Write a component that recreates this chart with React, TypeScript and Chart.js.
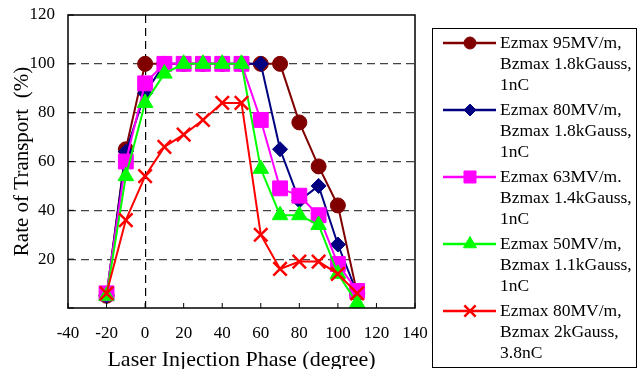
import React, { useEffect, useRef } from "react";
import { Chart, registerables } from "chart.js";
import { drawPoint } from "chart.js/helpers";

Chart.register(...registerables);

const phases = [-20, -10, 0, 10, 20, 30, 40, 50, 60, 70, 80, 90, 100, 110];
const ez95 = [5, 65, 100, 100, 100, 100, 100, 100, 100, 100, 76, 58, 42, 6];
const ez80 = [5, 64, 88, 100, 100, 100, 100, 100, 100, 65, 44, 50, 26, 6];
const ez63 = [6, 60, 92, 100, 100, 100, 100, 100, 77, 49, 46, 38, 18, 7];
const ez50 = [5, 54, 84, 96, 100, 100, 100, 100, 57, 38, 38, 34, 14, 2];
const ez80hi = [6, 36, 54, 66, 71, 77, 84, 84, 30, 16, 19, 19, 14, 6];

const seriesLabels = [
  ["Ezmax 95MV/m,", "Bzmax 1.8kGauss,", "1nC"],
  ["Ezmax 80MV/m,", "Bzmax 1.8kGauss,", "1nC"],
  ["Ezmax 63MV/m.", "Bzmax 1.4kGauss,", "1nC"],
  ["Ezmax 50MV/m,", "Bzmax 1.1kGauss,", "1nC"],
  ["Ezmax 80MV/m,", "Bzmax 2kGauss,", "3.8nC"],
];
const seriesValues = [ez95, ez80, ez63, ez50, ez80hi];
const colors = ["#800000", "#000080", "#FF00FF", "#00FF00", "#FF0000"];
const styles = ["circle", "rectRot", "rect", "triangle", "crossRot"];
const radii = [7.5, 7.5, 10.5, 9, 9.5];
const legendRadii = [6, 6, 8.5, 7.5, 8];

const xTicks = [-40, -20, 0, 20, 40, 60, 80, 100, 120, 140];
const yTicks = [0, 20, 40, 60, 80, 100, 120];

const FONT = "'Liberation Serif', 'Times New Roman', serif";

const framePlugin = {
  id: "frame",
  afterDraw(chart: any) {
    const { ctx, chartArea } = chart;
    const { left, right, top, bottom } = chartArea;
    ctx.save();
    ctx.strokeStyle = "#000";
    ctx.lineWidth = 1.5;
    ctx.setLineDash([]);
    ctx.strokeRect(left, top, right - left, bottom - top);
    const xs = chart.scales.x;
    const ys = chart.scales.y;
    ctx.lineWidth = 1;
    xTicks.forEach((v) => {
      const px = xs.getPixelForValue(v);
      ctx.beginPath();
      ctx.moveTo(px, bottom);
      ctx.lineTo(px, bottom - 5);
      ctx.stroke();
    });
    yTicks.forEach((v) => {
      const py = ys.getPixelForValue(v);
      ctx.beginPath();
      ctx.moveTo(left, py);
      ctx.lineTo(left + 6, py);
      ctx.stroke();
    });
    ctx.restore();
  },
};

const legendPlugin = {
  id: "customLegend",
  afterDraw(chart: any) {
    const { ctx } = chart;
    ctx.save();
    ctx.setLineDash([]);
    ctx.strokeStyle = "#000";
    ctx.lineWidth = 1;
    ctx.strokeRect(432.5, 28.5, 204, 339);
    ctx.font = `17.5px ${FONT}`;
    ctx.textBaseline = "middle";
    ctx.textAlign = "left";
    seriesLabels.forEach((lines, i) => {
      const y0 = 43 + i * 67;
      ctx.strokeStyle = colors[i];
      ctx.fillStyle = colors[i];
      ctx.lineWidth = 2.5;
      ctx.beginPath();
      ctx.moveTo(443, y0);
      ctx.lineTo(496, y0);
      ctx.stroke();
      ctx.lineWidth = styles[i] === "crossRot" ? 2.5 : 1;
      drawPoint(
        ctx,
        {
          pointStyle: styles[i],
          radius: legendRadii[i],
          rotation: 0,
          borderWidth: styles[i] === "crossRot" ? 2.5 : 1,
        } as any,
        470,
        y0
      );
      ctx.fillStyle = "#000";
      lines.forEach((t, j) => {
        ctx.fillText(t, 500, y0 + j * 21);
      });
    });
    ctx.restore();
  },
};

export default function App() {
  const ref = useRef<HTMLCanvasElement>(null);
  useEffect(() => {
    document.body.style.margin = "0";
    const canvas = ref.current!;
    const datasets = seriesValues.map((vals, i) => ({
      label: seriesLabels[i].join(" "),
      data: phases.map((p, k) => ({ x: p, y: vals[k] })),
      borderColor: colors[i],
      backgroundColor: colors[i],
      pointBackgroundColor: colors[i],
      pointBorderColor: colors[i],
      pointStyle: styles[i],
      pointRadius: radii[i],
      pointBorderWidth: styles[i] === "crossRot" ? 2.5 : 1,
      borderWidth: 2,
      showLine: true,
      fill: false,
      tension: 0,
      clip: false,
      order: 5 - i,
    }));

    const chart = new Chart(canvas, {
      type: "scatter",
      data: { datasets: datasets as any },
      options: {
        responsive: false,
        devicePixelRatio: 1,
        animation: false,
        layout: { autoPadding: false, padding: { left: 0, top: 15, right: 225, bottom: 0 } },
        plugins: {
          legend: { display: false },
          tooltip: { enabled: false },
        },
        scales: {
          x: {
            type: "linear",
            min: xTicks[0],
            max: xTicks[xTicks.length - 1],
            afterBuildTicks: (s: any) => {
              s.ticks = xTicks.map((v) => ({ value: v }));
            },
            afterFit: (s: any) => {
              s.height = 61;
              s.paddingLeft = 0;
              s.paddingRight = 0;
            },
            ticks: {
              color: "#000",
              font: { family: FONT, size: 17 },
              padding: 15,
              maxRotation: 0,
            },
            grid: {
              drawTicks: false,
              color: (c: any) => (c.tick && c.tick.value === 0 ? "#000" : "rgba(0,0,0,0)"),
              lineWidth: 1.2,
            },
            border: { display: false, dash: [8, 5] },
            title: {
              display: true,
              text: "Laser Injection Phase (degree)",
              color: "#000",
              font: { family: FONT, size: 22, lineHeight: 0.8 },
              padding: { top: 0, bottom: 0 },
            },
          },
          y: {
            type: "linear",
            min: yTicks[0],
            max: yTicks[yTicks.length - 1],
            afterBuildTicks: (s: any) => {
              s.ticks = yTicks.map((v) => ({ value: v }));
            },
            afterFit: (s: any) => {
              s.width = 68;
              s.paddingTop = 0;
              s.paddingBottom = 0;
            },
            ticks: {
              color: "#000",
              font: { family: FONT, size: 17 },
              padding: 13,
              callback: (v: any) => (v === 0 ? "" : String(v)),
            },
            grid: {
              drawTicks: false,
              color: (c: any) =>
                c.tick && (c.tick.value === 0 || c.tick.value === 120) ? "rgba(0,0,0,0)" : "#444",
              lineWidth: 1.2,
            },
            border: { display: false, dash: [8, 5] },
            title: {
              display: true,
              text: "Rate of Transport  (%)",
              color: "#000",
              font: { family: FONT, size: 21, lineHeight: 1.0 },
              padding: { top: 12, bottom: 0 },
            },
          },
        },
      },
      plugins: [framePlugin, legendPlugin],
    });
    return () => chart.destroy();
  }, []);

  return (
    <div style={{ position: "fixed", left: 0, top: 0, width: 640, height: 369, background: "#fff" }}>
      <canvas ref={ref} width={640} height={369} style={{ display: "block" }} />
    </div>
  );
}
